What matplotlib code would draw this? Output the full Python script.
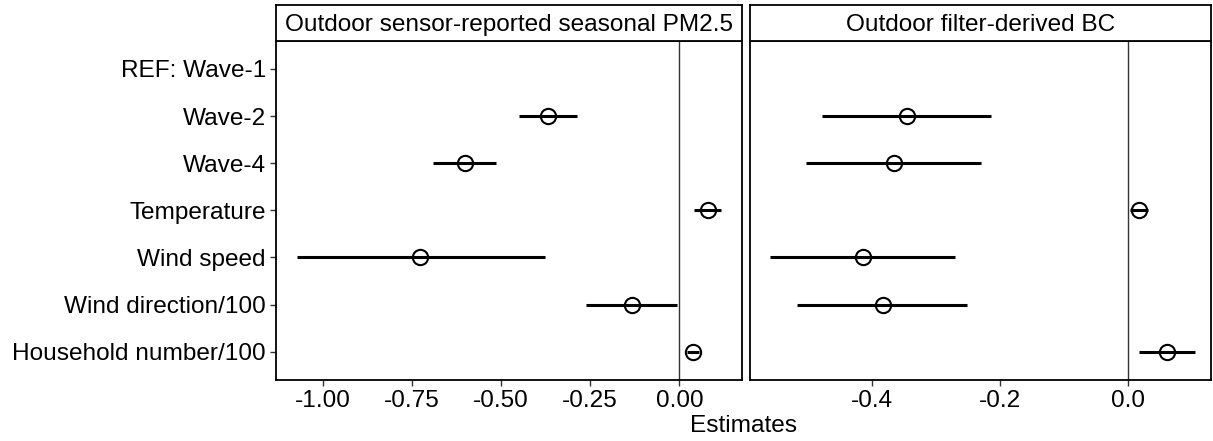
import matplotlib
matplotlib.use('Agg')
import matplotlib.pyplot as plt
import numpy as np

plt.rcParams['font.family'] = ['Liberation Sans', 'DejaVu Sans']

# Model terms, top to bottom
terms = ['REF: Wave-1', 'Wave-2', 'Wave-4', 'Temperature', 'Wind speed',
         'Wind direction/100', 'Household number/100']

# Outdoor sensor PM2.5 estimates with 95% CI (reference level has none)
pm_est = [np.nan, -0.369, -0.601, 0.080, -0.727, -0.134, 0.037]
pm_lo = [np.nan, -0.451, -0.691, 0.042, -1.073, -0.262, 0.022]
pm_hi = [np.nan, -0.288, -0.514, 0.116, -0.377, -0.006, 0.054]

# Outdoor filter BC estimates
bc_est = [np.nan, -0.344, -0.365, 0.017, -0.413, -0.383, 0.061]
bc_lo = [np.nan, -0.477, -0.502, 0.004, -0.558, -0.517, 0.017]
bc_hi = [np.nan, -0.214, -0.229, 0.032, -0.270, -0.251, 0.105]

panels = [
    ('Outdoor sensor-reported seasonal PM2.5', pm_est, pm_lo, pm_hi,
     (-1.132, 0.175), [-1.0, -0.75, -0.5, -0.25, 0.0], '%.2f'),
    ('Outdoor filter-derived BC', bc_est, bc_lo, bc_hi,
     (-0.590, 0.130), [-0.4, -0.2, 0.0], '%.1f'),
]

fig = plt.figure(figsize=(12.13, 4.41), dpi=100)
bottom, height = 0.1383, 0.7694
lefts = [0.2273, 0.6183]
widths = [0.3842, 0.3800]
fs = 17.6

ypos = np.arange(len(terms))
for i, (title, est, lo, hi, xlim, ticks, fmt) in enumerate(panels):
    ax = fig.add_axes([lefts[i], bottom, widths[i], height])
    ax.axvline(0, color='#333333', lw=1.0, zorder=1)
    est = np.array(est); lo = np.array(lo); hi = np.array(hi)
    ax.hlines(ypos, lo, hi, color='black', lw=2.2, zorder=2)
    ax.plot(est, ypos, 'o', ms=11, mfc='none', mec='black', mew=1.5, zorder=3)
    ax.set_xlim(*xlim)
    ax.set_ylim(len(terms) - 0.4, -0.6)
    ax.set_xticks(ticks)
    ax.set_xticklabels([fmt % t for t in ticks], fontsize=fs)
    ax.set_yticks(ypos)
    ax.tick_params(axis='both', direction='out', length=4, width=1,
                   color='#333333', labelcolor='black', pad=3)
    if i == 0:
        ax.set_yticklabels(terms, fontsize=fs)
    else:
        ax.set_yticklabels([])
        ax.tick_params(axis='y', length=0)
    for s in ax.spines.values():
        s.set_linewidth(1.3)
        s.set_color('black')

    # facet strip on top
    sax = fig.add_axes([lefts[i], bottom + height, widths[i], 0.081])
    sax.set_xticks([]); sax.set_yticks([])
    for s in sax.spines.values():
        s.set_linewidth(1.3)
        s.set_color('black')
    sax.text(0.5, 0.45, title, ha='center', va='center', fontsize=fs,
             transform=sax.transAxes)

fig.text((lefts[0] + lefts[1] + widths[1]) / 2, 0.035, 'Estimates',
         ha='center', va='center', fontsize=fs)

fig.savefig('out.png', dpi=100)
